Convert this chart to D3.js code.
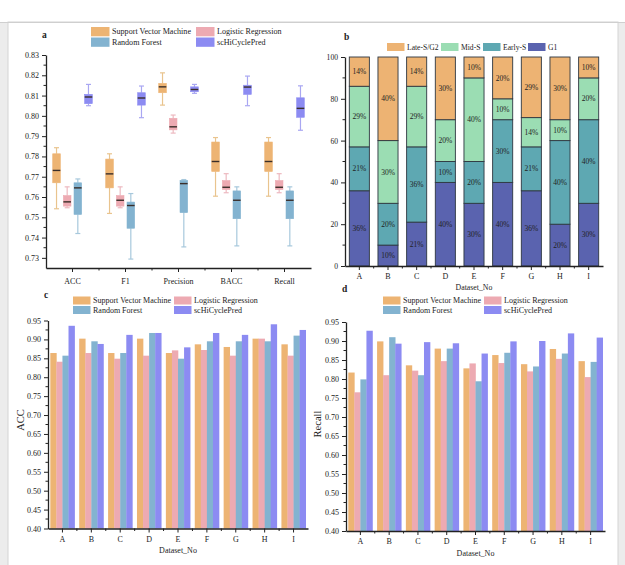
<!DOCTYPE html>
<html><head><meta charset="utf-8">
<script src="https://cdn.jsdelivr.net/npm/d3@7"></script>
<style>
body{margin:0;background:#fff;}
svg text{font-family:"Liberation Serif","Times New Roman",serif;fill:#222;}
</style></head>
<body><svg id="c" width="625" height="565"></svg>
<script>
// ---------- DATA ----------
const metrics = ["ACC","F1","Precision","BACC","Recall"];
const models = ["Support Vector Machine","Logistic Regression","Random Forest","scHiCyclePred"];
// box stats per metric: [whiskerLow, q1, median, q3, whiskerHigh]
const svmBox = [[0.7542,0.7670,0.7731,0.7813,0.7843],[0.7519,0.7645,0.7714,0.7787,0.7813],[0.8053,0.8114,0.8143,0.8160,0.8212],[0.7604,0.7726,0.7775,0.7871,0.7893],[0.7604,0.7726,0.7775,0.7871,0.7893]];
const lrBox  = [[0.7547,0.7555,0.7576,0.7607,0.7650],[0.7547,0.7555,0.7584,0.7607,0.7650],[0.7915,0.7931,0.7946,0.7988,0.8004],[0.7621,0.7637,0.7648,0.7681,0.7715],[0.7621,0.7637,0.7648,0.7681,0.7715]];
const rfBox  = [[0.7420,0.7514,0.7645,0.7670,0.7689],[0.7294,0.7446,0.7558,0.7575,0.7617],[0.7354,0.7523,0.7666,0.7682,0.7686],[0.7359,0.7493,0.7584,0.7630,0.7650],[0.7359,0.7493,0.7584,0.7630,0.7650]];
const scBox  = [[0.8050,0.8060,0.8093,0.8106,0.8155],[0.7991,0.8053,0.8088,0.8114,0.8147],[0.8111,0.8119,0.8130,0.8143,0.8155],[0.8050,0.8106,0.8142,0.8151,0.8196],[0.7929,0.7993,0.8037,0.8089,0.8148]];
const boxTicks = [0.73,0.74,0.75,0.76,0.77,0.78,0.79,0.80,0.81,0.82,0.83];

const datasets = ["A","B","C","D","E","F","G","H","I"];
const phases = ["G1","Early-S","Mid-S","Late-S/G2"];
const g1Pct     = [36,10,21,40,30,40,36,20,30];
const earlySPct = [21,20,36,10,20,30,21,40,40];
const midSPct   = [29,30,29,20,40,10,14,10,20];
const lateSPct  = [14,40,14,30,10,20,29,30,10];
const pctTicks = [0,20,40,60,80,100];

const svmAcc = [0.864,0.902,0.864,0.902,0.864,0.887,0.880,0.902,0.887];
const lrAcc  = [0.841,0.864,0.849,0.857,0.871,0.872,0.857,0.902,0.857];
const rfAcc  = [0.857,0.895,0.864,0.917,0.849,0.895,0.895,0.895,0.910];
const scAcc  = [0.936,0.888,0.912,0.917,0.879,0.917,0.912,0.940,0.925];

const svmRec = [0.817,0.899,0.836,0.880,0.828,0.863,0.839,0.879,0.847];
const lrRec  = [0.765,0.810,0.822,0.847,0.841,0.842,0.820,0.853,0.805];
const rfRec  = [0.799,0.910,0.810,0.880,0.794,0.869,0.833,0.867,0.845];
const scRec  = [0.927,0.893,0.897,0.894,0.867,0.899,0.900,0.920,0.909];
const barTicks = [0.40,0.45,0.50,0.55,0.60,0.65,0.70,0.75,0.80,0.85,0.90,0.95];

// ---------- STYLE ----------
const modelColor = {"Support Vector Machine":"#EDB473","Logistic Regression":"#EDAAB2","Random Forest":"#83B3D0","scHiCyclePred":"#8C8BF2"};
const whiskColor = {"Support Vector Machine":"#E9C48E","Logistic Regression":"#EDB9C0","Random Forest":"#A7C8DC","scHiCyclePred":"#A9A7F2"};
const phaseColor = {"G1":"#5A63AF","Early-S":"#5EA8B2","Mid-S":"#9BDDB3","Late-S/G2":"#EDB373"};
const axisCol = "#222";
const TICK_FS = 8;

const svg = d3.select("#c");
// card frame
svg.append("rect").attr("x",0).attr("y",22).attr("width",625).attr("height",543).attr("fill","#ececec");
svg.append("rect").attr("x",8).attr("y",22).attr("width",610).attr("height",550).attr("fill","#fff").attr("stroke","#d4d4d4");
svg.append("line").attr("x1",0).attr("x2",625).attr("y1",22.5).attr("y2",22.5).attr("stroke","#cfcfcf");

function styleAxis(g){
  g.select(".domain").attr("stroke",axisCol).attr("stroke-width",1.3);
  g.selectAll(".tick line").attr("stroke",axisCol).attr("stroke-width",1);
  g.selectAll(".tick text").attr("font-size",TICK_FS).attr("fill","#222").style("font-family","Liberation Serif, serif");
}
function minorY(g, y, vals, x0){
  g.selectAll(null).data(vals).enter().append("line")
    .attr("x1",x0).attr("x2",x0-2.5).attr("y1",d=>y(d)).attr("y2",d=>y(d))
    .attr("stroke",axisCol).attr("stroke-width",1);
}
function minorX(g, xs, y0){
  g.selectAll(null).data(xs).enter().append("line")
    .attr("x1",d=>d).attr("x2",d=>d).attr("y1",y0).attr("y2",y0+2.5)
    .attr("stroke",axisCol).attr("stroke-width",1);
}
function legend(g, items, colors, positions, sw, sh, fs){
  items.forEach((m,i)=>{
    const p = positions[i];
    g.append("rect").attr("x",p[0]).attr("y",p[1]).attr("width",sw).attr("height",sh).attr("fill",colors[m]);
    g.append("text").attr("x",p[0]+sw+2.5).attr("y",p[1]+sh/2+fs*0.34).attr("font-size",fs).text(m);
  });
}

// ---------- PANEL a ----------
{
  const g = svg.append("g");
  const x = d3.scaleBand().domain(metrics).range([46,311]);
  const y = d3.scaleLinear().domain([0.725,0.83]).range([268,55]);
  const xi = d3.scaleBand().domain(models).range([0,42.6]);
  const allBox = [svmBox,lrBox,rfBox,scBox];
  const bw = 7.6;
  models.forEach((m,mi)=>{
    allBox[mi].forEach((b,k)=>{
      const cx = x(metrics[k]) + x.bandwidth()/2 - 21.3 + xi(m) + xi.bandwidth()/2;
      const wc = whiskColor[m];
      g.append("line").attr("x1",cx).attr("x2",cx).attr("y1",y(b[0])).attr("y2",y(b[1])).attr("stroke",wc).attr("stroke-width",1.2);
      g.append("line").attr("x1",cx).attr("x2",cx).attr("y1",y(b[3])).attr("y2",y(b[4])).attr("stroke",wc).attr("stroke-width",1.2);
      [b[0],b[4]].forEach(v=>g.append("line").attr("x1",cx-2.5).attr("x2",cx+2.5).attr("y1",y(v)).attr("y2",y(v)).attr("stroke",wc).attr("stroke-width",1.2));
      g.append("rect").attr("x",cx-bw/2).attr("y",y(b[3])).attr("width",bw).attr("height",y(b[1])-y(b[3]))
        .attr("fill",modelColor[m]).attr("stroke",modelColor[m]).attr("stroke-width",0.6);
      g.append("line").attr("x1",cx-bw/2).attr("x2",cx+bw/2).attr("y1",y(b[2])).attr("y2",y(b[2])).attr("stroke","#3a2e2a").attr("stroke-width",1.4);
    });
  });
  const ya = g.append("g").attr("transform","translate(46,0)").call(d3.axisLeft(y).tickValues(boxTicks).tickFormat(d3.format(".2f")).tickSize(4).tickSizeOuter(0).tickPadding(3));
  styleAxis(ya);
  minorY(g,y,boxTicks.map(t=>t-0.005).filter(v=>v>0.725&&v<0.83),46);
  const xa = g.append("g").attr("transform","translate(0,268)").call(d3.axisBottom(x).tickSize(4).tickSizeOuter(0).tickPadding(6.5));
  styleAxis(xa);
  minorX(g, metrics.slice(1).map(m=>x(m)), 268);
  g.append("text").attr("x",42).attr("y",38).attr("font-size",9.5).attr("font-weight","bold").text("a");
  legend(g, models, modelColor, [[91,27],[196,27],[91,37.5],[196,37.5]], 18.5, 9.3, 8.1);
}

// ---------- PANEL b ----------
{
  const g = svg.append("g");
  const x = d3.scaleBand().domain(datasets).range([345,603]).paddingInner(0.3).paddingOuter(0.15);
  const y = d3.scaleLinear().domain([0,100]).range([266,57]);
  const rows = datasets.map((d,i)=>({ds:d,"G1":g1Pct[i],"Early-S":earlySPct[i],"Mid-S":midSPct[i],"Late-S/G2":lateSPct[i]}));
  const stack = d3.stack().keys(phases)(rows);
  stack.forEach(layer=>{
    layer.forEach(seg=>{
      const ds = seg.data.ds;
      g.append("rect").attr("x",x(ds)).attr("y",y(seg[1])).attr("width",x.bandwidth()).attr("height",y(seg[0])-y(seg[1]))
        .attr("fill",phaseColor[layer.key]).attr("stroke","#2d3640").attr("stroke-width",0.9);
      g.append("text").attr("x",x(ds)+x.bandwidth()/2).attr("y",(y(seg[0])+y(seg[1]))/2+2.6)
        .attr("text-anchor","middle").attr("font-size",7.5).attr("fill","#1d2a33")
        .text(d3.format(".0f")(seg[1]-seg[0])+"%");
    });
  });
  const ya = g.append("g").attr("transform","translate(345,0)").call(d3.axisLeft(y).tickValues(pctTicks).tickSize(4).tickSizeOuter(0).tickPadding(3));
  styleAxis(ya);
  ya.selectAll(".tick text").attr("font-size",7.6);
  minorY(g,y,[10,30,50,70,90],345);
  const xa = g.append("g").attr("transform","translate(0,266)").call(d3.axisBottom(x).tickSize(4).tickSizeOuter(0).tickPadding(3.6));
  styleAxis(xa);
  const step = x.step();
  minorX(g, datasets.slice(1).map(d=>x(d)-step*x.paddingInner()/2), 266);
  g.append("text").attr("x",474).attr("y",289.5).attr("text-anchor","middle").attr("font-size",7.8).text("Dataset_No");
  g.append("text").attr("x",344).attr("y",40).attr("font-size",9.5).attr("font-weight","bold").text("b");
  const legOrder = ["Late-S/G2","Mid-S","Early-S","G1"];
  legend(g, legOrder, phaseColor, [[387,43],[441,43],[483,43],[528,43]], 17.5, 8, 7.6);
}

// ---------- PANELS c & d ----------
function groupedBars(opts){
  const g = svg.append("g");
  const x = d3.scaleBand().domain(datasets).range([opts.x0,opts.x1]).paddingInner(0.16).paddingOuter(0.08);
  const xi = d3.scaleBand().domain(models).range([0,x.bandwidth()]);
  const y = d3.scaleLinear().domain([0.40,0.95]).range([opts.yb,opts.yt]);
  const series = opts.series;
  models.forEach((m,mi)=>{
    g.selectAll(null).data(series[mi]).enter().append("rect")
      .attr("x",(d,i)=>x(datasets[i])+xi(m)).attr("y",d=>y(d))
      .attr("width",xi.bandwidth()+0.3).attr("height",d=>y(0.40)-y(d))
      .attr("fill",modelColor[m]);
  });
  const ya = g.append("g").attr("transform",`translate(${opts.x0},0)`).call(d3.axisLeft(y).tickValues(barTicks).tickFormat(d3.format(".2f")).tickSize(4).tickSizeOuter(0).tickPadding(3));
  styleAxis(ya);
  minorY(g,y,barTicks.slice(0,-1).map(t=>t+0.025),opts.x0);
  const xa = g.append("g").attr("transform",`translate(0,${opts.yb})`).call(d3.axisBottom(x).tickSize(4).tickSizeOuter(0).tickPadding(3.6));
  styleAxis(xa);
  minorX(g, datasets.slice(1).map(d=>x(d)-x.step()*x.paddingInner()/2), opts.yb);
  g.append("text").attr("x",(opts.x0+opts.x1)/2).attr("y",opts.yb+24.5).attr("text-anchor","middle").attr("font-size",8).text("Dataset_No");
  g.append("text").attr("transform",`translate(${opts.titleX},${opts.titleY}) rotate(-90)`).attr("text-anchor","middle").attr("font-size",10.5).text(opts.title);
  g.append("text").attr("x",opts.labX).attr("y",opts.labY).attr("font-size",9.5).attr("font-weight","bold").text(opts.label);
  const lx = opts.legX;
  legend(g, models, modelColor, [[lx,296.5],[lx+101,296.5],[lx,306],[lx+101,306]], 17.5, 8, 8);
}
groupedBars({x0:48,x1:308,yb:528.5,yt:320.5,series:[svmAcc,lrAcc,rfAcc,scAcc],title:"ACC",titleX:24,titleY:420,label:"c",labX:44,labY:298,legX:73});
groupedBars({x0:346,x1:605,yb:531,yt:322,series:[svmRec,lrRec,rfRec,scRec],title:"Recall",titleX:321,titleY:424,label:"d",labX:342,labY:292,legX:383});
</script></body></html>
